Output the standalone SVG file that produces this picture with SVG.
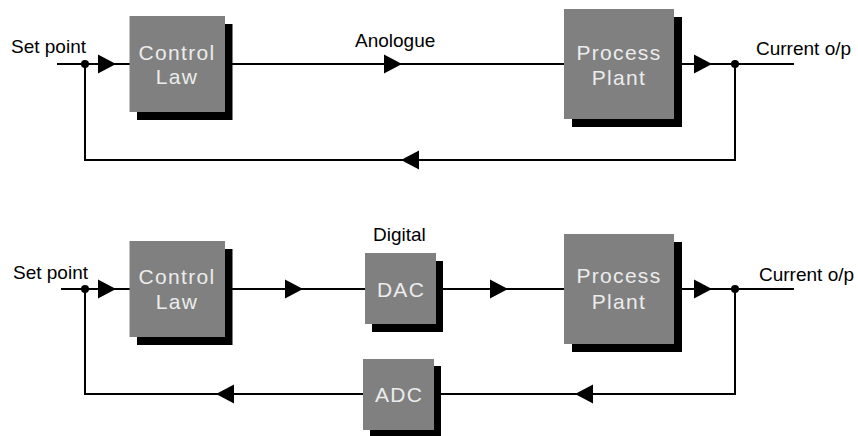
<svg xmlns="http://www.w3.org/2000/svg" xmlns:xlink="http://www.w3.org/1999/xlink" width="858" height="436" viewBox="0 0 858 436">
  <style>
    .wire { fill: none; stroke: #000; stroke-width: 2; }
    .box { fill: #808080; }
    .shadow { fill: #000; }
    .boxtext { font-family: "Liberation Sans", Arial, sans-serif; font-size: 21px; letter-spacing: 1.3px; fill: #ececec; text-anchor: middle; }
    .label { font-family: "Liberation Sans", Arial, sans-serif; font-size: 19px; fill: #000; }
    .dot { fill: #000; }
  </style>
  <defs>
    <path id="arrow" d="M0,-9.5 L18,0 L0,9.5 Z" fill="#000"/>
  </defs>
  <rect width="858" height="436" fill="#fff"/>

  <!-- connectors -->
  <g id="connectors">
    <!-- analogue loop -->
    <path class="wire" d="M57,64 H130"/>
    <path class="wire" d="M225,64 H565"/>
    <path class="wire" d="M674,64 H794"/>
    <path class="wire" d="M735,64 V160 H85 V64"/>
    <circle class="dot" cx="85" cy="64" r="4"/>
    <circle class="dot" cx="735" cy="64" r="4"/>
    <use xlink:href="#arrow" x="98" y="64"/>
    <use xlink:href="#arrow" x="384" y="64"/>
    <use xlink:href="#arrow" x="694" y="64"/>
    <use xlink:href="#arrow" transform="translate(419,160) scale(-1,1)"/>

    <!-- digital loop -->
    <path class="wire" d="M61,289 H130"/>
    <path class="wire" d="M225,289 H365"/>
    <path class="wire" d="M436,289 H565"/>
    <path class="wire" d="M674,289 H794"/>
    <path class="wire" d="M735,289 V394 H434"/>
    <path class="wire" d="M363,394 H85 V289"/>
    <circle class="dot" cx="85" cy="289" r="4"/>
    <circle class="dot" cx="735" cy="289" r="4"/>
    <use xlink:href="#arrow" x="98" y="289"/>
    <use xlink:href="#arrow" x="285" y="289"/>
    <use xlink:href="#arrow" x="490" y="289"/>
    <use xlink:href="#arrow" x="694" y="289"/>
    <use xlink:href="#arrow" transform="translate(593,394) scale(-1,1)"/>
    <use xlink:href="#arrow" transform="translate(234,394) scale(-1,1)"/>
  </g>

  <!-- analogue loop nodes -->
  <g id="control-law-1">
    <rect class="shadow" x="137" y="24" width="95.5" height="96"/>
    <rect class="box" x="129.5" y="16" width="95.5" height="96"/>
    <text class="boxtext" x="177" y="60">Control</text>
    <text class="boxtext" x="177" y="84">Law</text>
  </g>
  <g id="process-plant-1">
    <rect class="shadow" x="572" y="17" width="110" height="110"/>
    <rect class="box" x="564" y="9" width="110" height="110"/>
    <text class="boxtext" x="619" y="60">Process</text>
    <text class="boxtext" x="619" y="85">Plant</text>
  </g>
  <g id="labels-1">
    <text class="label" x="11" y="53">Set point</text>
    <text class="label" x="355" y="47">Anologue</text>
    <text class="label" x="756" y="55">Current o/p</text>
  </g>

  <!-- digital loop nodes -->
  <g id="control-law-2">
    <rect class="shadow" x="137" y="249" width="95.5" height="96"/>
    <rect class="box" x="129.5" y="241" width="95.5" height="96"/>
    <text class="boxtext" x="177" y="284">Control</text>
    <text class="boxtext" x="177" y="309">Law</text>
  </g>
  <g id="dac">
    <rect class="shadow" x="372" y="261" width="71" height="71"/>
    <rect class="box" x="365" y="253" width="71" height="71"/>
    <text class="boxtext" x="401" y="297">DAC</text>
  </g>
  <g id="process-plant-2">
    <rect class="shadow" x="572" y="242" width="110" height="110"/>
    <rect class="box" x="564" y="234" width="110" height="110"/>
    <text class="boxtext" x="619" y="283">Process</text>
    <text class="boxtext" x="619" y="309">Plant</text>
  </g>
  <g id="adc">
    <rect class="shadow" x="370" y="366" width="71" height="71"/>
    <rect class="box" x="363" y="359" width="71" height="71"/>
    <text class="boxtext" x="399" y="402">ADC</text>
  </g>
  <g id="labels-2">
    <text class="label" x="13" y="279">Set point</text>
    <text class="label" x="373" y="241">Digital</text>
    <text class="label" x="759" y="281">Current o/p</text>
  </g>
</svg>
